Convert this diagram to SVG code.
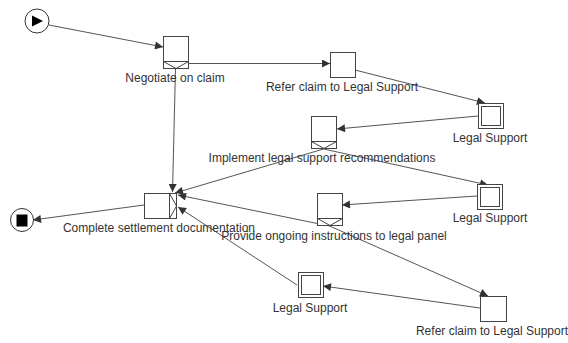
<svg xmlns="http://www.w3.org/2000/svg" width="568" height="343" viewBox="0 0 568 343">
<style>
.box{fill:#fff;stroke:#444;stroke-width:1}
.ln{fill:none;stroke:#444;stroke-width:1}
.e{fill:none;stroke:#555;stroke-width:1;marker-end:url(#ah)}
text{font-family:"Liberation Sans",Arial,sans-serif;font-size:12px;fill:#333;text-anchor:middle}
</style>
<defs>
<marker id="ah" viewBox="0 0 10 10" refX="10" refY="5" markerWidth="10" markerHeight="8" markerUnits="userSpaceOnUse" orient="auto">
<path d="M0,0 L10,5 L0,10 z" fill="#333"/>
</marker>
</defs>
<rect width="568" height="343" fill="#fff"/>
<g id="connectors">
<line class="e" x1="49" y1="25" x2="163" y2="47"/>
<line class="e" x1="188" y1="63.5" x2="330" y2="63.5"/>
<line class="e" x1="355" y1="70" x2="485" y2="103"/>
<line class="e" x1="478" y1="116" x2="337" y2="129"/>
<line class="e" x1="175.5" y1="68" x2="172.5" y2="192"/>
<line class="e" x1="323.5" y1="149" x2="175" y2="193"/>
<line class="e" x1="323.5" y1="149" x2="488" y2="185"/>
<line class="e" x1="477" y1="196" x2="342" y2="205"/>
<line class="e" x1="329.5" y1="226" x2="178" y2="195"/>
<line class="e" x1="329.5" y1="226" x2="488" y2="296"/>
<line class="e" x1="480" y1="308" x2="323" y2="286"/>
<line class="e" x1="297" y1="285" x2="178" y2="207"/>
<line class="e" x1="144" y1="205" x2="33" y2="220"/>
</g>
<g id="start">
<circle cx="37" cy="21" r="12" fill="#fff" stroke="#333"/>
<path d="M32,15.5 L43,21 L32,26.5 z" fill="#000"/>
</g>
<g id="negotiate">
<rect class="box" x="163.5" y="36.5" width="25" height="32"/>
<path class="ln" d="M163.5,61.5 H188.5 M163.5,61.5 L176,68.5 L188.5,61.5"/>
<text x="175" y="82">Negotiate on claim</text>
</g>
<g id="refer1">
<rect class="box" x="330.5" y="52.5" width="25" height="25"/>
<text x="342" y="91">Refer claim to Legal Support</text>
</g>
<g id="ls1">
<rect class="box" x="478.5" y="103.5" width="25" height="25"/>
<rect class="box" x="481.5" y="106.5" width="19" height="19"/>
<text x="490" y="142">Legal Support</text>
</g>
<g id="implement">
<rect class="box" x="311.5" y="116.5" width="25" height="32"/>
<path class="ln" d="M311.5,141.5 H336.5 M311.5,141.5 L324,148.5 L336.5,141.5"/>
<text x="322" y="162">Implement legal support recommendations</text>
</g>
<g id="ls2">
<rect class="box" x="477.5" y="184.5" width="25" height="25"/>
<rect class="box" x="480.5" y="187.5" width="19" height="19"/>
<text x="490" y="222">Legal Support</text>
</g>
<g id="complete">
<rect class="box" x="144.5" y="193.5" width="32" height="25"/>
<path class="ln" d="M169.5,193.5 V218.5 M169.5,193.5 L176.5,206 L169.5,218.5"/>
<text x="159" y="232">Complete settlement documentation</text>
</g>
<g id="provide">
<rect class="box" x="317.5" y="193.5" width="25" height="32"/>
<path class="ln" d="M317.5,218.5 H342.5 M317.5,218.5 L330,225.5 L342.5,218.5"/>
<text x="334" y="240">Provide ongoing instructions to legal panel</text>
</g>
<g id="ls3">
<rect class="box" x="298.5" y="272.5" width="25" height="25"/>
<rect class="box" x="301.5" y="275.5" width="19" height="19"/>
<text x="310" y="312">Legal Support</text>
</g>
<g id="refer2">
<rect class="box" x="480.5" y="296.5" width="26" height="25"/>
<text x="492" y="335">Refer claim to Legal Support</text>
</g>
<g id="end">
<circle cx="22" cy="220" r="11.5" fill="#fff" stroke="#333"/>
<rect x="16.5" y="214.5" width="11" height="12" fill="#000"/>
</g>
</svg>
